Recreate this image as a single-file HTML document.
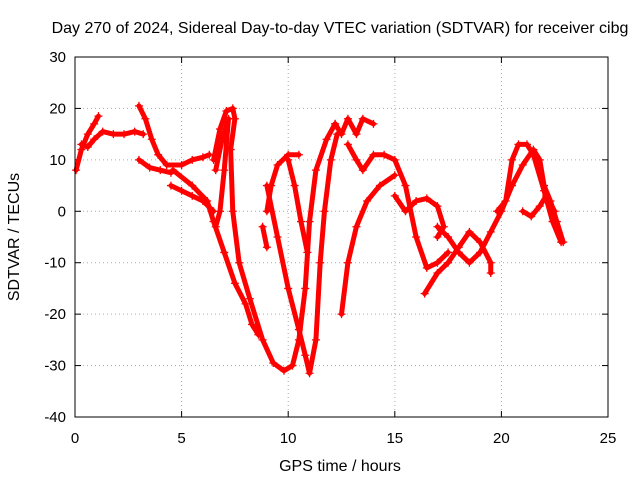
<!DOCTYPE html>
<html><head><meta charset="utf-8"><style>
body{margin:0;background:#fff}
svg{display:block;font-family:"Liberation Sans",sans-serif}
</style></head><body>
<svg id="chart" width="640" height="480">
<text x="340" y="33" font-size="16" text-anchor="middle">Day 270 of 2024, Sidereal Day-to-day VTEC variation (SDTVAR) for receiver cibg</text>
<text x="340" y="471" font-size="16" text-anchor="middle">GPS time / hours</text>
<text x="19" y="237" font-size="16" text-anchor="middle" transform="rotate(-90 19 237)">SDTVAR / TECUs</text>
<g id="grid"></g>
<g id="axes"></g>
<g id="series"></g>
<rect x="75" y="57" width="533" height="360" fill="none" stroke="#000"/>
</svg>
<script>
const xTicks=[0,5,10,15,20,25];
const yTicks=[30,20,10,0,-10,-20,-30,-40];
const tracks=[
[[0.05,8],[0.3,12],[0.6,15],[0.9,17],[1.1,18.5]],
[[0.3,13],[0.6,12.5],[0.9,14],[1.3,15.5],[1.8,15],[2.3,15],[2.8,15.5],[3.2,15]],
[[3,20.5],[3.3,18],[3.6,14],[3.9,11],[4.3,9],[5,9],[5.5,10],[6,10.5],[6.3,11]],
[[3,10],[3.5,8.5],[4,8],[4.5,7.5]],
[[4.5,5],[5,4],[5.5,3],[6,2],[6.5,0]],
[[4.6,8],[5.5,5],[6.2,2],[6.5,-2],[7,-8],[7.5,-14],[8,-18],[8.3,-22],[8.6,-24]],
[[6.5,10],[6.8,16],[7.1,19.5],[7.4,20],[7.5,18],[7.3,12],[7.4,0],[7.7,-10],[8.2,-17],[8.8,-25],[9.3,-29.5],[9.8,-31],[10.2,-30],[10.5,-25],[10.8,-15],[11,-2],[11.3,8],[11.8,14],[12.2,17]],
[[6.6,8],[6.9,14],[7.2,18],[7.0,8],[6.8,0],[6.6,-3]],
[[8.8,-3],[9,-7]],
[[9,0],[9.2,5],[9.5,9],[10,11],[10.5,11]],
[[9,5],[9.5,-5],[10,-15],[10.5,-23],[10.8,-28],[11,-31.5],[11.3,-25],[11.5,-10],[11.7,0],[12,10],[12.3,15]],
[[10,10],[10.3,5],[10.6,-2],[10.9,-8]],
[[12.5,-20],[12.8,-10],[13.2,-3],[13.7,2],[14.3,5],[15,7]],
[[12.2,17],[12.5,15],[12.8,18],[13.2,15],[13.5,18],[14,17]],
[[12.8,13],[13.2,10],[13.5,8],[14,11],[14.5,11],[15,10],[15.5,5],[16,-5],[16.5,-11],[17,-10],[17.5,-8]],
[[15,3],[15.5,0],[16,2],[16.5,2.5],[17,1],[17.3,-3],[17,-5]],
[[16.4,-16],[17,-12],[17.5,-10],[18,-7],[18.5,-4],[19,-6],[19.5,-10],[19.5,-12]],
[[17,-3],[17.5,-5],[18,-8],[18.5,-10],[19,-8],[19.5,-4],[20,0],[20.5,5],[21,9],[21.5,12],[21.8,10],[22,5],[22.3,2],[22.6,-2],[22.9,-6]],
[[19.8,0],[20.2,2],[20.5,10],[20.8,13],[21.2,13],[21.5,11],[22,4],[22.4,-2],[22.8,-6]],
[[21,0],[21.4,-1],[21.8,1],[22.1,3],[22.5,0]]
];
const NS='http://www.w3.org/2000/svg';
const X=v=>75+v*533/25, Y=v=>417-(v+40)*360/70;
const grid=document.getElementById('grid'),axes=document.getElementById('axes'),ser=document.getElementById('series');
function mk(tag,at,p){const e=document.createElementNS(NS,tag);for(const k in at)e.setAttribute(k,at[k]);p.appendChild(e);return e;}
xTicks.forEach(t=>{
 const x=X(t);
 if(t>0&&t<25){const g=mk('line',{x1:x,x2:x,y1:57,y2:417,stroke:'#aaa','stroke-dasharray':'1,3'},grid);
 
 }
 mk('line',{x1:x,x2:x,y1:417,y2:411,stroke:'#000'},axes);
 mk('line',{x1:x,x2:x,y1:57,y2:63,stroke:'#000'},axes);
 const l=mk('text',{x:x,y:443,'font-size':15,'text-anchor':'middle'},axes);l.textContent=t;
 
 
});
yTicks.forEach(t=>{
 const y=Y(t);
 if(t<30&&t>-40){const g=mk('line',{x1:75,x2:608,y1:y,y2:y,stroke:'#aaa','stroke-dasharray':'1,3'},grid);
 
 }
 mk('line',{x1:75,x2:81,y1:y,y2:y,stroke:'#000'},axes);
 mk('line',{x1:602,x2:608,y1:y,y2:y,stroke:'#000'},axes);
 const l=mk('text',{x:66,y:y+5,'font-size':15,'text-anchor':'end'},axes);l.textContent=t;
 
 
});
tracks.forEach(tr=>{
 const pl=mk('polyline',{points:tr.map(p=>X(p[0])+','+Y(p[1])).join(' '),fill:'none',stroke:'#f00','stroke-width':5,'stroke-linejoin':'round','stroke-linecap':'round'},ser);
 
 
 tr.forEach(p=>{
  const x=X(p[0]),y=Y(p[1]);
  const m=mk('path',{d:`M${x-4},${y}H${x+4}M${x},${y-4}V${y+4}`,stroke:'#f00','stroke-width':1.3},ser);
  
  
 });
});
</script>
</body></html>
